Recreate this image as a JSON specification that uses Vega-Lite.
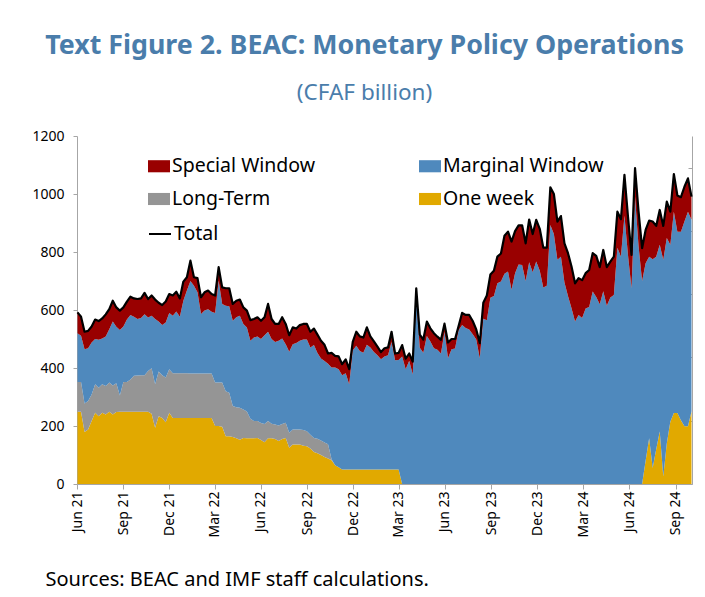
{
  "$schema": "https://vega.github.io/schema/vega-lite/v6.json",
  "width": 615,
  "height": 348,
  "autosize": {"type": "none"},
  "padding": {"left": 77, "top": 136, "right": 13, "bottom": 113},
  "background": "white",
  "title": {
    "text": "Text Figure 2. BEAC: Monetary Policy Operations",
    "subtitle": "(CFAF billion)",
    "anchor": "middle",
    "frame": "group",
    "dx": -20,
    "font": "Noto Sans",
    "fontSize": 26.8,
    "fontWeight": "bold",
    "color": "#4a7dab",
    "subtitleFont": "Noto Sans",
    "subtitleFontSize": 22.5,
    "subtitleColor": "#4a7dab",
    "subtitlePadding": 22,
    "offset": 25
  },
  "config": {"view": {"stroke": null}, "font": "Noto Sans"},
  "datasets": {
    "series": [
      {"key": "ow", "series": "One week", "ord": 1},
      {"key": "lt", "series": "Long-Term", "ord": 2},
      {"key": "mw", "series": "Marginal Window", "ord": 3},
      {"key": "sw", "series": "Special Window", "ord": 4}
    ],
    "ops": [
      {"date":"2021-06-02","ow":249,"lt":103,"mw":168,"sw":72,"total":592},
      {"date":"2021-06-09","ow":249,"lt":103,"mw":159,"sw":66,"total":577},
      {"date":"2021-06-16","ow":179,"lt":99,"mw":187,"sw":60,"total":525},
      {"date":"2021-06-23","ow":188,"lt":98,"mw":182,"sw":60,"total":528},
      {"date":"2021-06-30","ow":217,"lt":92,"mw":179,"sw":55,"total":543},
      {"date":"2021-07-07","ow":246,"lt":98,"mw":156,"sw":67,"total":567},
      {"date":"2021-07-14","ow":234,"lt":98,"mw":165,"sw":65,"total":562},
      {"date":"2021-07-21","ow":246,"lt":98,"mw":158,"sw":69,"total":571},
      {"date":"2021-07-28","ow":240,"lt":98,"mw":171,"sw":76,"total":585},
      {"date":"2021-08-04","ow":249,"lt":101,"mw":184,"sw":69,"total":603},
      {"date":"2021-08-11","ow":240,"lt":100,"mw":220,"sw":72,"total":632},
      {"date":"2021-08-18","ow":248,"lt":99,"mw":195,"sw":67,"total":609},
      {"date":"2021-08-25","ow":249,"lt":56,"mw":226,"sw":67,"total":598},
      {"date":"2021-09-01","ow":249,"lt":103,"mw":191,"sw":66,"total":609},
      {"date":"2021-09-08","ow":249,"lt":103,"mw":215,"sw":62,"total":629},
      {"date":"2021-09-15","ow":249,"lt":111,"mw":223,"sw":63,"total":646},
      {"date":"2021-09-22","ow":249,"lt":124,"mw":204,"sw":63,"total":640},
      {"date":"2021-09-29","ow":249,"lt":125,"mw":195,"sw":69,"total":638},
      {"date":"2021-10-06","ow":249,"lt":126,"mw":197,"sw":68,"total":640},
      {"date":"2021-10-13","ow":249,"lt":126,"mw":210,"sw":74,"total":659},
      {"date":"2021-10-20","ow":249,"lt":141,"mw":184,"sw":64,"total":638},
      {"date":"2021-10-27","ow":242,"lt":157,"mw":181,"sw":70,"total":650},
      {"date":"2021-11-03","ow":194,"lt":150,"mw":225,"sw":67,"total":636},
      {"date":"2021-11-10","ow":234,"lt":154,"mw":172,"sw":65,"total":625},
      {"date":"2021-11-17","ow":228,"lt":147,"mw":173,"sw":69,"total":617},
      {"date":"2021-11-24","ow":213,"lt":154,"mw":190,"sw":72,"total":629},
      {"date":"2021-12-01","ow":246,"lt":150,"mw":194,"sw":65,"total":655},
      {"date":"2021-12-08","ow":228,"lt":154,"mw":198,"sw":70,"total":650},
      {"date":"2021-12-15","ow":228,"lt":154,"mw":213,"sw":68,"total":663},
      {"date":"2021-12-22","ow":228,"lt":154,"mw":195,"sw":63,"total":640},
      {"date":"2021-12-29","ow":228,"lt":154,"mw":250,"sw":66,"total":698},
      {"date":"2022-01-05","ow":228,"lt":154,"mw":285,"sw":46,"total":713},
      {"date":"2022-01-12","ow":228,"lt":153,"mw":319,"sw":70,"total":770},
      {"date":"2022-01-19","ow":228,"lt":153,"mw":303,"sw":29,"total":713},
      {"date":"2022-01-26","ow":228,"lt":153,"mw":280,"sw":49,"total":710},
      {"date":"2022-02-02","ow":228,"lt":153,"mw":205,"sw":58,"total":644},
      {"date":"2022-02-09","ow":228,"lt":153,"mw":217,"sw":63,"total":661},
      {"date":"2022-02-16","ow":228,"lt":153,"mw":222,"sw":64,"total":667},
      {"date":"2022-02-23","ow":228,"lt":153,"mw":213,"sw":61,"total":655},
      {"date":"2022-03-02","ow":200,"lt":150,"mw":240,"sw":60,"total":650},
      {"date":"2022-03-09","ow":200,"lt":150,"mw":351,"sw":47,"total":748},
      {"date":"2022-03-16","ow":197,"lt":153,"mw":271,"sw":57,"total":678},
      {"date":"2022-03-23","ow":165,"lt":155,"mw":295,"sw":60,"total":675},
      {"date":"2022-03-30","ow":165,"lt":150,"mw":298,"sw":62,"total":675},
      {"date":"2022-04-06","ow":162,"lt":107,"mw":294,"sw":58,"total":621},
      {"date":"2022-04-13","ow":158,"lt":107,"mw":310,"sw":57,"total":632},
      {"date":"2022-04-20","ow":153,"lt":110,"mw":317,"sw":56,"total":636},
      {"date":"2022-04-27","ow":159,"lt":98,"mw":295,"sw":57,"total":609},
      {"date":"2022-05-04","ow":158,"lt":92,"mw":290,"sw":58,"total":598},
      {"date":"2022-05-11","ow":158,"lt":67,"mw":269,"sw":71,"total":565},
      {"date":"2022-05-18","ow":158,"lt":59,"mw":288,"sw":64,"total":569},
      {"date":"2022-05-25","ow":159,"lt":58,"mw":292,"sw":66,"total":575},
      {"date":"2022-06-01","ow":152,"lt":58,"mw":290,"sw":63,"total":563},
      {"date":"2022-06-08","ow":144,"lt":63,"mw":306,"sw":62,"total":575},
      {"date":"2022-06-15","ow":158,"lt":59,"mw":308,"sw":96,"total":621},
      {"date":"2022-06-22","ow":158,"lt":50,"mw":292,"sw":69,"total":569},
      {"date":"2022-06-29","ow":155,"lt":50,"mw":285,"sw":62,"total":552},
      {"date":"2022-07-06","ow":148,"lt":54,"mw":292,"sw":58,"total":552},
      {"date":"2022-07-13","ow":155,"lt":52,"mw":295,"sw":73,"total":575},
      {"date":"2022-07-20","ow":159,"lt":52,"mw":271,"sw":70,"total":552},
      {"date":"2022-07-27","ow":125,"lt":52,"mw":279,"sw":57,"total":513},
      {"date":"2022-08-03","ow":136,"lt":52,"mw":294,"sw":58,"total":540},
      {"date":"2022-08-10","ow":136,"lt":52,"mw":298,"sw":50,"total":536},
      {"date":"2022-08-17","ow":136,"lt":52,"mw":306,"sw":54,"total":548},
      {"date":"2022-08-24","ow":132,"lt":54,"mw":312,"sw":54,"total":552},
      {"date":"2022-08-31","ow":130,"lt":52,"mw":316,"sw":54,"total":552},
      {"date":"2022-09-07","ow":122,"lt":48,"mw":301,"sw":54,"total":525},
      {"date":"2022-09-14","ow":110,"lt":49,"mw":320,"sw":57,"total":536},
      {"date":"2022-09-21","ow":106,"lt":50,"mw":296,"sw":63,"total":515},
      {"date":"2022-09-28","ow":100,"lt":50,"mw":283,"sw":61,"total":494},
      {"date":"2022-10-05","ow":93,"lt":50,"mw":281,"sw":56,"total":480},
      {"date":"2022-10-12","ow":88,"lt":49,"mw":278,"sw":35,"total":450},
      {"date":"2022-10-19","ow":82,"lt":3,"mw":317,"sw":50,"total":452},
      {"date":"2022-10-26","ow":65,"lt":0,"mw":337,"sw":40,"total":442},
      {"date":"2022-11-02","ow":58,"lt":0,"mw":338,"sw":44,"total":440},
      {"date":"2022-11-09","ow":50,"lt":0,"mw":325,"sw":38,"total":413},
      {"date":"2022-11-16","ow":50,"lt":0,"mw":332,"sw":48,"total":430},
      {"date":"2022-11-23","ow":50,"lt":0,"mw":294,"sw":52,"total":396},
      {"date":"2022-11-30","ow":50,"lt":0,"mw":410,"sw":30,"total":490},
      {"date":"2022-12-07","ow":50,"lt":0,"mw":427,"sw":48,"total":525},
      {"date":"2022-12-14","ow":50,"lt":0,"mw":409,"sw":50,"total":509},
      {"date":"2022-12-21","ow":50,"lt":0,"mw":403,"sw":52,"total":505},
      {"date":"2022-12-28","ow":50,"lt":0,"mw":430,"sw":60,"total":540},
      {"date":"2023-01-04","ow":50,"lt":0,"mw":421,"sw":38,"total":509},
      {"date":"2023-01-11","ow":50,"lt":0,"mw":405,"sw":37,"total":492},
      {"date":"2023-01-18","ow":50,"lt":0,"mw":394,"sw":30,"total":474},
      {"date":"2023-01-25","ow":50,"lt":0,"mw":380,"sw":25,"total":455},
      {"date":"2023-02-01","ow":50,"lt":0,"mw":390,"sw":28,"total":468},
      {"date":"2023-02-08","ow":50,"lt":0,"mw":394,"sw":27,"total":471},
      {"date":"2023-02-15","ow":50,"lt":0,"mw":440,"sw":35,"total":525},
      {"date":"2023-02-22","ow":50,"lt":0,"mw":377,"sw":23,"total":450},
      {"date":"2023-03-01","ow":50,"lt":0,"mw":378,"sw":24,"total":452},
      {"date":"2023-03-08","ow":0,"lt":0,"mw":440,"sw":39,"total":479},
      {"date":"2023-03-15","ow":0,"lt":0,"mw":396,"sw":36,"total":432},
      {"date":"2023-03-22","ow":0,"lt":0,"mw":425,"sw":25,"total":450},
      {"date":"2023-03-29","ow":0,"lt":0,"mw":378,"sw":44,"total":422},
      {"date":"2023-04-05","ow":0,"lt":0,"mw":635,"sw":40,"total":675},
      {"date":"2023-04-12","ow":0,"lt":0,"mw":470,"sw":45,"total":515},
      {"date":"2023-04-19","ow":0,"lt":0,"mw":453,"sw":45,"total":498},
      {"date":"2023-04-26","ow":0,"lt":0,"mw":510,"sw":50,"total":560},
      {"date":"2023-05-03","ow":0,"lt":0,"mw":491,"sw":46,"total":537},
      {"date":"2023-05-10","ow":0,"lt":0,"mw":468,"sw":52,"total":520},
      {"date":"2023-05-17","ow":0,"lt":0,"mw":463,"sw":45,"total":508},
      {"date":"2023-05-24","ow":0,"lt":0,"mw":450,"sw":47,"total":497},
      {"date":"2023-05-31","ow":0,"lt":0,"mw":524,"sw":29,"total":553},
      {"date":"2023-06-07","ow":0,"lt":0,"mw":434,"sw":54,"total":488},
      {"date":"2023-06-14","ow":0,"lt":0,"mw":465,"sw":35,"total":500},
      {"date":"2023-06-21","ow":0,"lt":0,"mw":467,"sw":33,"total":500},
      {"date":"2023-06-28","ow":0,"lt":0,"mw":530,"sw":15,"total":545},
      {"date":"2023-07-05","ow":0,"lt":0,"mw":548,"sw":42,"total":590},
      {"date":"2023-07-12","ow":0,"lt":0,"mw":538,"sw":45,"total":583},
      {"date":"2023-07-19","ow":0,"lt":0,"mw":533,"sw":50,"total":583},
      {"date":"2023-07-26","ow":0,"lt":0,"mw":516,"sw":46,"total":562},
      {"date":"2023-08-02","ow":0,"lt":0,"mw":498,"sw":35,"total":533},
      {"date":"2023-08-09","ow":0,"lt":0,"mw":434,"sw":52,"total":486},
      {"date":"2023-08-16","ow":0,"lt":0,"mw":570,"sw":55,"total":625},
      {"date":"2023-08-23","ow":0,"lt":0,"mw":565,"sw":85,"total":650},
      {"date":"2023-08-30","ow":0,"lt":0,"mw":642,"sw":80,"total":722},
      {"date":"2023-09-06","ow":0,"lt":0,"mw":648,"sw":87,"total":735},
      {"date":"2023-09-13","ow":0,"lt":0,"mw":692,"sw":92,"total":784},
      {"date":"2023-09-20","ow":0,"lt":0,"mw":698,"sw":97,"total":795},
      {"date":"2023-09-27","ow":0,"lt":0,"mw":725,"sw":131,"total":856},
      {"date":"2023-10-04","ow":0,"lt":0,"mw":733,"sw":137,"total":870},
      {"date":"2023-10-11","ow":0,"lt":0,"mw":670,"sw":166,"total":836},
      {"date":"2023-10-18","ow":0,"lt":0,"mw":727,"sw":145,"total":872},
      {"date":"2023-10-25","ow":0,"lt":0,"mw":757,"sw":135,"total":892},
      {"date":"2023-11-01","ow":0,"lt":0,"mw":755,"sw":137,"total":892},
      {"date":"2023-11-08","ow":0,"lt":0,"mw":700,"sw":130,"total":830},
      {"date":"2023-11-15","ow":0,"lt":0,"mw":765,"sw":147,"total":912},
      {"date":"2023-11-22","ow":0,"lt":0,"mw":730,"sw":132,"total":862},
      {"date":"2023-11-29","ow":0,"lt":0,"mw":767,"sw":144,"total":911},
      {"date":"2023-12-06","ow":0,"lt":0,"mw":735,"sw":145,"total":880},
      {"date":"2023-12-13","ow":0,"lt":0,"mw":678,"sw":137,"total":815},
      {"date":"2023-12-20","ow":0,"lt":0,"mw":684,"sw":131,"total":815},
      {"date":"2023-12-27","ow":0,"lt":0,"mw":893,"sw":130,"total":1023},
      {"date":"2024-01-03","ow":0,"lt":0,"mw":862,"sw":138,"total":1000},
      {"date":"2024-01-10","ow":0,"lt":0,"mw":773,"sw":132,"total":905},
      {"date":"2024-01-17","ow":0,"lt":0,"mw":784,"sw":140,"total":924},
      {"date":"2024-01-24","ow":0,"lt":0,"mw":695,"sw":135,"total":830},
      {"date":"2024-01-31","ow":0,"lt":0,"mw":648,"sw":148,"total":796},
      {"date":"2024-02-07","ow":0,"lt":0,"mw":606,"sw":144,"total":750},
      {"date":"2024-02-14","ow":0,"lt":0,"mw":560,"sw":132,"total":692},
      {"date":"2024-02-21","ow":0,"lt":0,"mw":583,"sw":127,"total":710},
      {"date":"2024-02-28","ow":0,"lt":0,"mw":572,"sw":131,"total":703},
      {"date":"2024-03-06","ow":0,"lt":0,"mw":605,"sw":122,"total":727},
      {"date":"2024-03-13","ow":0,"lt":0,"mw":610,"sw":128,"total":738},
      {"date":"2024-03-20","ow":0,"lt":0,"mw":664,"sw":132,"total":796},
      {"date":"2024-03-27","ow":0,"lt":0,"mw":645,"sw":142,"total":787},
      {"date":"2024-04-03","ow":0,"lt":0,"mw":620,"sw":128,"total":748},
      {"date":"2024-04-10","ow":0,"lt":0,"mw":665,"sw":142,"total":807},
      {"date":"2024-04-17","ow":0,"lt":0,"mw":615,"sw":133,"total":748},
      {"date":"2024-04-24","ow":0,"lt":0,"mw":643,"sw":124,"total":767},
      {"date":"2024-05-01","ow":0,"lt":0,"mw":652,"sw":132,"total":784},
      {"date":"2024-05-08","ow":0,"lt":0,"mw":815,"sw":124,"total":939},
      {"date":"2024-05-15","ow":0,"lt":0,"mw":784,"sw":129,"total":913},
      {"date":"2024-05-22","ow":0,"lt":0,"mw":925,"sw":141,"total":1066},
      {"date":"2024-05-29","ow":0,"lt":0,"mw":790,"sw":132,"total":922},
      {"date":"2024-06-05","ow":0,"lt":0,"mw":675,"sw":115,"total":790},
      {"date":"2024-06-12","ow":0,"lt":0,"mw":990,"sw":99,"total":1089},
      {"date":"2024-06-19","ow":0,"lt":0,"mw":820,"sw":119,"total":939},
      {"date":"2024-06-26","ow":0,"lt":0,"mw":700,"sw":113,"total":813},
      {"date":"2024-07-03","ow":80,"lt":0,"mw":681,"sw":115,"total":876},
      {"date":"2024-07-10","ow":158,"lt":0,"mw":626,"sw":124,"total":908},
      {"date":"2024-07-17","ow":55,"lt":0,"mw":720,"sw":130,"total":905},
      {"date":"2024-07-24","ow":120,"lt":0,"mw":664,"sw":106,"total":890},
      {"date":"2024-07-31","ow":181,"lt":0,"mw":644,"sw":120,"total":945},
      {"date":"2024-08-07","ow":26,"lt":0,"mw":747,"sw":117,"total":890},
      {"date":"2024-08-14","ow":140,"lt":0,"mw":708,"sw":126,"total":974},
      {"date":"2024-08-21","ow":215,"lt":0,"mw":610,"sw":114,"total":939},
      {"date":"2024-08-28","ow":245,"lt":0,"mw":694,"sw":130,"total":1069},
      {"date":"2024-09-04","ow":245,"lt":0,"mw":625,"sw":125,"total":995},
      {"date":"2024-09-11","ow":220,"lt":0,"mw":650,"sw":119,"total":989},
      {"date":"2024-09-18","ow":199,"lt":0,"mw":706,"sw":120,"total":1025},
      {"date":"2024-09-25","ow":199,"lt":0,"mw":740,"sw":115,"total":1054},
      {"date":"2024-10-02","ow":250,"lt":0,"mw":661,"sw":80,"total":991}
    ]
  },
  "data": {"name": "ops"},
  "layer": [
    {
      "layer": [
        {
          "transform": [
            {"fold": ["ow", "lt", "mw", "sw"], "as": ["key", "value"]},
            {"lookup": "key", "from": {"data": {"name": "series"}, "key": "key", "fields": ["series", "ord"]}}
          ],
          "mark": {"type": "area", "interpolate": "linear"},
          "encoding": {
            "x": {
              "field": "date", "type": "temporal",
              "scale": {"type": "utc", "domain": [{"year": 2021, "month": 6, "date": 1, "utc": true}, {"year": 2024, "month": 10, "date": 3, "utc": true}]},
              "axis": {
                "values": [
                  {"year": 2021, "month": 6, "date": 1, "utc": true},
                  {"year": 2021, "month": 9, "date": 1, "utc": true},
                  {"year": 2021, "month": 12, "date": 1, "utc": true},
                  {"year": 2022, "month": 3, "date": 1, "utc": true},
                  {"year": 2022, "month": 6, "date": 1, "utc": true},
                  {"year": 2022, "month": 9, "date": 1, "utc": true},
                  {"year": 2022, "month": 12, "date": 1, "utc": true},
                  {"year": 2023, "month": 3, "date": 1, "utc": true},
                  {"year": 2023, "month": 6, "date": 1, "utc": true},
                  {"year": 2023, "month": 9, "date": 1, "utc": true},
                  {"year": 2023, "month": 12, "date": 1, "utc": true},
                  {"year": 2024, "month": 3, "date": 1, "utc": true},
                  {"year": 2024, "month": 6, "date": 1, "utc": true},
                  {"year": 2024, "month": 9, "date": 1, "utc": true}
                ],
                "labelExpr": "utcFormat(datum.value, '%b %y')",
                "labelAngle": -90,
                "labelFont": "Noto Sans",
                "labelFontSize": 14,
                "labelColor": "black",
                "labelPadding": 2,
                "labelFlush": false,
                "labelOverlap": false,
                "tickSize": 5,
                "tickColor": "#a6a6a6",
                "domainColor": "#a6a6a6",
                "grid": false,
                "title": "Sources: BEAC and IMF staff calculations.",
                "titleFont": "Noto Sans",
                "titleFontSize": 20,
                "titleFontWeight": "normal",
                "titleColor": "black",
                "titleAnchor": "start",
                "titleAlign": "left",
                "titleBaseline": "alphabetic",
                "titleX": -32,
                "titleY": 101
              }
            },
            "y": {
              "field": "value", "type": "quantitative", "stack": "zero",
              "scale": {"domain": [0, 1200]},
              "axis": {
                "values": [0, 200, 400, 600, 800, 1000, 1200],
                "format": "d",
                "title": null,
                "grid": false,
                "tickSize": 4,
                "tickColor": "#a6a6a6",
                "domainColor": "#a6a6a6",
                "labelFont": "Noto Sans",
                "labelFontSize": 14,
                "labelColor": "black",
                "labelPadding": 9
              }
            },
            "color": {
              "field": "series", "type": "nominal",
              "scale": {
                "domain": ["Special Window", "Long-Term", "Marginal Window", "One week"],
                "range": ["#990000", "#959595", "#4f89bd", "#e1a900"]
              },
              "legend": {
                "orient": "none",
                "legendX": 71,
                "legendY": 19,
                "columns": 2,
                "columnPadding": 103,
                "rowPadding": 12,
                "padding": 0,
                "title": null,
                "symbolType": "M-1,-0.55H1V0.55H-1Z",
                "symbolSize": 484,
                "symbolStrokeWidth": 0,
                "symbolOpacity": 1,
                "labelFont": "Noto Sans",
                "labelFontSize": 19.5,
                "labelColor": "black",
                "labelOffset": 2,
                "labelLimit": 300
              }
            },
            "order": {"field": "ord", "type": "quantitative"}
          }
        },
        {
          "mark": {"type": "line", "strokeWidth": 2.2, "strokeJoin": "round"},
          "encoding": {
            "x": {"field": "date", "type": "temporal"},
            "y": {"field": "total", "type": "quantitative"},
            "stroke": {
              "datum": "Total", "type": "nominal",
              "scale": {"range": ["black"]},
              "legend": {
                "orient": "none",
                "legendX": 71,
                "legendY": 86,
                "padding": 0,
                "title": null,
                "symbolType": "stroke",
                "symbolSize": 484,
                "symbolStrokeWidth": 2,
                "labelFont": "Noto Sans",
                "labelFontSize": 19.5,
                "labelColor": "black",
                "labelOffset": 2
              }
            }
          }
        }
      ]
    },
    {
      "mark": {"type": "point", "opacity": 0},
      "encoding": {
        "x": {"field": "date", "type": "temporal"},
        "y": {
          "field": "total", "type": "quantitative",
          "scale": {"domain": [0, 1100]},
          "axis": {
            "orient": "right",
            "values": [0, 200, 400, 600, 800, 1000],
            "labels": false,
            "title": null,
            "grid": false,
            "tickSize": -4,
            "tickColor": "#a6a6a6",
            "domainColor": "#a6a6a6"
          }
        }
      }
    }
  ],
  "resolve": {"scale": {"y": "independent"}}
}
